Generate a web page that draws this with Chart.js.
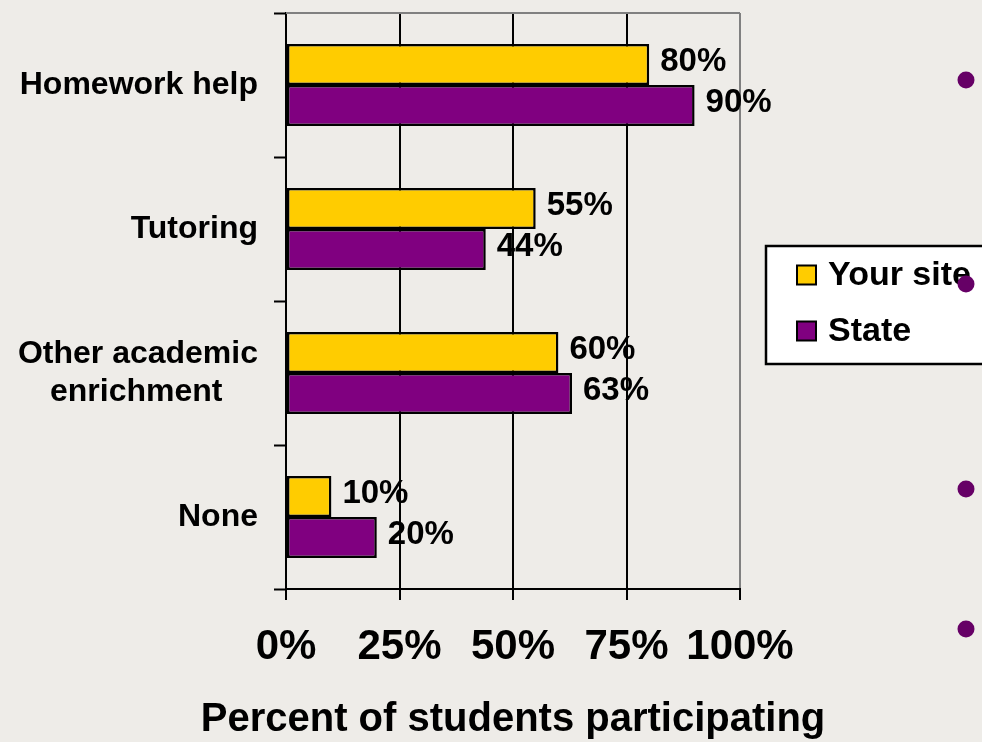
<!DOCTYPE html>
<html><head><meta charset="utf-8">
<script src="https://cdn.jsdelivr.net/npm/chart.js@4.4.0/dist/chart.umd.min.js"></script>
<style>html,body{margin:0;padding:0;background:#EEECE8;overflow:hidden}canvas{display:block}</style>
</head><body>
<canvas id="c" width="982" height="742"></canvas>
<script>
// ---- data ----
const categories = ['Homework help', 'Tutoring', ['Other academic', 'enrichment\u00A0\u00A0\u00A0\u00A0'], 'None'];
const seriesNames = ['Your site', 'State'];
const yourSite = [80, 55, 60, 10];
const state = [90, 44, 63, 20];
const xTickValues = [0, 25, 50, 75, 100];
const xTitle = 'Percent of students participating';

// ---- styles ----
const COLORS = ['#FFCC00', '#800080'];
const BG = '#EEECE8';
const FONT = "'Liberation Sans', Arial, Helvetica, sans-serif";
Chart.defaults.font.family = FONT;
Chart.defaults.font.weight = 'bold';
Chart.defaults.color = '#000';

const bgPlugin = {
  id: 'bg',
  beforeDraw(chart) {
    const c = chart.ctx;
    c.save(); c.fillStyle = BG; c.fillRect(0, 0, chart.width, chart.height); c.restore();
  }
};

const decoPlugin = {
  id: 'deco',
  afterDatasetsDraw(chart) {
    const c = chart.ctx, a = chart.chartArea;
    c.save();
    // top gray frame line
    c.strokeStyle = '#808080'; c.lineWidth = 2;
    c.beginPath(); c.moveTo(a.left, a.top); c.lineTo(a.right, a.top); c.stroke();
    // data labels
    c.fillStyle = '#000';
    c.font = 'bold 33px ' + FONT;
    c.textAlign = 'left'; c.textBaseline = 'middle';
    chart.data.datasets.forEach((ds, i) => {
      chart.getDatasetMeta(i).data.forEach((el, j) => {
        c.fillText(ds.data[j] + '%', el.x + 11, el.y - 3);
      });
    });
    c.restore();
  },
  afterDraw(chart) {
    const c = chart.ctx, a = chart.chartArea;
    c.save();
    // x axis title (drawn here so it is not squeezed to the plot width)
    c.fillStyle = '#000'; c.font = 'bold 40px ' + FONT;
    c.textAlign = 'center'; c.textBaseline = 'middle';
    c.fillText(xTitle, (a.left + a.right) / 2, chart.height - 22);
    // legend box
    const lx = a.right + 26, ly = 246, lw = 260, lh = 118;
    c.fillStyle = '#fff'; c.fillRect(lx, ly, lw, lh);
    c.strokeStyle = '#000'; c.lineWidth = 2.5; c.strokeRect(lx, ly, lw, lh);
    c.font = 'bold 34px ' + FONT; c.textBaseline = 'middle'; c.textAlign = 'left';
    chart.data.datasets.forEach((ds, i) => {
      const cy = ly + 29 + i * 56;
      c.fillStyle = ds.backgroundColor; c.fillRect(lx + 31, cy - 9.5, 19, 19);
      c.strokeStyle = '#000'; c.lineWidth = 2; c.strokeRect(lx + 31, cy - 9.5, 19, 19);
      c.fillStyle = '#000'; c.fillText(ds.label, lx + 62, cy + 1);
    });
    // slide bullets (decoration)
    c.fillStyle = '#660066';
    [80, 284, 489, 629].forEach(y => {
      c.beginPath(); c.arc(966, y, 8.5, 0, Math.PI * 2); c.fill();
    });
    c.restore();
  }
};

new Chart(document.getElementById('c'), {
  type: 'bar',
  data: {
    labels: categories,
    datasets: [
      { label: seriesNames[0], data: yourSite, backgroundColor: COLORS[0] },
      { label: seriesNames[1], data: state, backgroundColor: COLORS[1] }
    ]
  },
  options: {
    indexAxis: 'y',
    responsive: false,
    animation: false,
    devicePixelRatio: 1,
    layout: { padding: { left: 0, top: 13, right: 242, bottom: 0 } },
    datasets: { bar: { categoryPercentage: 0.57, barPercentage: 1, borderWidth: 2.5, borderColor: '#000', borderSkipped: false } },
    plugins: { legend: { display: false }, tooltip: { enabled: false } },
    scales: {
      x: {
        min: 0, max: 100,
        afterBuildTicks: s => { s.ticks = xTickValues.map(v => ({ value: v })); },
        afterFit: s => { s.height = 153; s.paddingLeft = 0; s.paddingRight = 0; },
        ticks: { font: { size: 42, weight: 'bold' }, color: '#000', padding: 22, callback: v => v + '%', maxRotation: 0 },
        grid: {
          color: ctx => (ctx.index === xTickValues.length - 1 ? '#808080' : '#000'),
          lineWidth: 2, tickLength: 11, tickWidth: 2, tickColor: '#000'
        },
        border: { color: '#000', width: 2 }
      },
      y: {
        afterFit: s => { s.width = 286; s.paddingTop = 0; s.paddingBottom = 0; },
        ticks: { font: { size: 32, weight: 'bold' }, color: '#000', padding: 16 },
        grid: { offset: true, drawOnChartArea: false, tickLength: 12, tickWidth: 2, tickColor: '#000', color: '#000' },
        border: { color: '#000', width: 2 }
      }
    }
  },
  plugins: [bgPlugin, decoPlugin]
});
</script>
</body></html>
